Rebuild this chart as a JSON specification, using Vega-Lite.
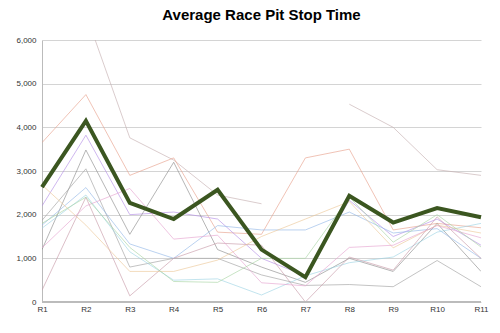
{
  "$schema": "https://vega.github.io/schema/vega-lite/v6.json",
  "autosize": "none",
  "width": 439,
  "height": 262,
  "padding": {"left": 42, "top": 40, "right": 19, "bottom": 31},
  "background": "white",
  "title": {"text": "Average Race Pit Stop Time", "fontSize": 15, "font": "Liberation Sans", "fontWeight": "bold", "color": "#000", "anchor": "middle", "offset": 13},
  "config": {
    "view": {"stroke": null},
    "axis": {"labelFont": "Liberation Sans", "labelFontSize": 8, "labelColor": "#333", "domainColor": "#bbb", "gridColor": "#d4d4d4", "tickSize": 0, "title": null}
  },
  "data": {"values": [
    {"race":"R2","series":"A","value":6600},{"race":"R3","series":"A","value":3760},{"race":"R4","series":"A","value":3250},{"race":"R5","series":"A","value":2450},{"race":"R6","series":"A","value":2250},
    {"race":"R8","series":"A2","value":4530},{"race":"R9","series":"A2","value":4000},{"race":"R10","series":"A2","value":3030},{"race":"R11","series":"A2","value":2900},
    {"race":"R1","series":"B","value":3650},{"race":"R2","series":"B","value":4750},{"race":"R3","series":"B","value":2900},{"race":"R4","series":"B","value":3300},{"race":"R5","series":"B","value":1600},{"race":"R6","series":"B","value":1550},{"race":"R7","series":"B","value":3300},{"race":"R8","series":"B","value":3500},{"race":"R9","series":"B","value":1650},{"race":"R10","series":"B","value":1800},{"race":"R11","series":"B","value":1700},
    {"race":"R1","series":"C","value":2200},{"race":"R2","series":"C","value":3820},{"race":"R3","series":"C","value":2000},{"race":"R4","series":"C","value":2060},{"race":"R5","series":"C","value":1900},{"race":"R6","series":"C","value":1000},{"race":"R7","series":"C","value":600},{"race":"R8","series":"C","value":2330},{"race":"R9","series":"C","value":1500},{"race":"R10","series":"C","value":1900},{"race":"R11","series":"C","value":1300},
    {"race":"R1","series":"D","value":1200},{"race":"R2","series":"D","value":3480},{"race":"R3","series":"D","value":1550},{"race":"R4","series":"D","value":3200},{"race":"R5","series":"D","value":1200},{"race":"R6","series":"D","value":800},{"race":"R7","series":"D","value":450},{"race":"R8","series":"D","value":1000},{"race":"R9","series":"D","value":700},{"race":"R10","series":"D","value":1800},{"race":"R11","series":"D","value":700},
    {"race":"R1","series":"E","value":1870},{"race":"R2","series":"E","value":3050},{"race":"R3","series":"E","value":800},{"race":"R4","series":"E","value":1000},{"race":"R5","series":"E","value":1000},{"race":"R6","series":"E","value":620},{"race":"R7","series":"E","value":380},{"race":"R8","series":"E","value":400},{"race":"R9","series":"E","value":350},{"race":"R10","series":"E","value":950},{"race":"R11","series":"E","value":350},
    {"race":"R1","series":"F","value":1760},{"race":"R2","series":"F","value":2620},{"race":"R3","series":"F","value":1330},{"race":"R4","series":"F","value":1000},{"race":"R5","series":"F","value":1750},{"race":"R6","series":"F","value":1650},{"race":"R7","series":"F","value":1650},{"race":"R8","series":"F","value":2060},{"race":"R9","series":"F","value":1580},{"race":"R10","series":"F","value":1680},{"race":"R11","series":"F","value":1000},
    {"race":"R1","series":"G","value":1690},{"race":"R2","series":"G","value":2450},{"race":"R3","series":"G","value":1150},{"race":"R4","series":"G","value":500},{"race":"R5","series":"G","value":530},{"race":"R6","series":"G","value":160},{"race":"R7","series":"G","value":600},{"race":"R8","series":"G","value":900},{"race":"R9","series":"G","value":1030},{"race":"R10","series":"G","value":1600},{"race":"R11","series":"G","value":1800},
    {"race":"R1","series":"H","value":270},{"race":"R2","series":"H","value":2400},{"race":"R3","series":"H","value":140},{"race":"R4","series":"H","value":1000},{"race":"R5","series":"H","value":1350},{"race":"R6","series":"H","value":1300},{"race":"R7","series":"H","value":0},{"race":"R8","series":"H","value":1030},{"race":"R9","series":"H","value":730},{"race":"R10","series":"H","value":1950},{"race":"R11","series":"H","value":1000},
    {"race":"R1","series":"I","value":2680},{"race":"R2","series":"I","value":1760},{"race":"R3","series":"I","value":700},{"race":"R4","series":"I","value":700},{"race":"R5","series":"I","value":960},{"race":"R6","series":"I","value":1500},{"race":"R7","series":"I","value":1900},{"race":"R8","series":"I","value":2300},{"race":"R9","series":"I","value":1240},{"race":"R10","series":"I","value":1760},{"race":"R11","series":"I","value":1580},
    {"race":"R1","series":"J","value":1240},{"race":"R2","series":"J","value":2200},{"race":"R3","series":"J","value":2600},{"race":"R4","series":"J","value":1440},{"race":"R5","series":"J","value":1530},{"race":"R6","series":"J","value":440},{"race":"R7","series":"J","value":370},{"race":"R8","series":"J","value":1250},{"race":"R9","series":"J","value":1300},{"race":"R10","series":"J","value":1750},{"race":"R11","series":"J","value":1470},
    {"race":"R1","series":"K","value":1800},{"race":"R2","series":"K","value":2400},{"race":"R3","series":"K","value":1250},{"race":"R4","series":"K","value":470},{"race":"R5","series":"K","value":450},{"race":"R6","series":"K","value":1000},{"race":"R7","series":"K","value":1000},{"race":"R8","series":"K","value":2400},{"race":"R9","series":"K","value":1370},{"race":"R10","series":"K","value":2000},{"race":"R11","series":"K","value":1260},
    {"race":"R1","series":"Average","value":2630},{"race":"R2","series":"Average","value":4150},{"race":"R3","series":"Average","value":2270},{"race":"R4","series":"Average","value":1900},{"race":"R5","series":"Average","value":2570},{"race":"R6","series":"Average","value":1200},{"race":"R7","series":"Average","value":570},{"race":"R8","series":"Average","value":2430},{"race":"R9","series":"Average","value":1820},{"race":"R10","series":"Average","value":2150},{"race":"R11","series":"Average","value":1940}
  ]},
  "encoding": {
    "x": {"field": "race", "type": "ordinal", "sort": ["R1","R2","R3","R4","R5","R6","R7","R8","R9","R10","R11"], "scale": {"type": "point", "padding": 0},
          "axis": {"labelAngle": 0, "labelPadding": 3, "grid": false, "domain": false}},
    "y": {"field": "value", "type": "quantitative", "scale": {"domain": [0, 6000]},
          "axis": {"values": [0,1000,2000,3000,4000,5000,6000], "format": ",.0f", "labelPadding": 6, "domain": true}}
  },
  "layer": [
    {
      "transform": [{"filter": "datum.series != 'Average'"}],
      "mark": {"type": "line", "strokeWidth": 0.8, "clip": true, "opacity": 0.8},
      "encoding": {
        "color": {"field": "series", "type": "nominal", "legend": null,
          "scale": {"domain": ["A","A2","B","C","D","E","F","G","H","I","J","K"],
                    "range": ["#c4aeb0","#c4aeb0","#e8a08c","#b48ee6","#8c8c8c","#a0a0a0","#94b8e8","#9fd4e4","#c89aa8","#ecc898","#e6a4d0","#a8d4a4"]}},
        "detail": {"field": "series"}
      }
    },
    {
      "transform": [{"filter": "datum.series == 'Average'"}],
      "mark": {"type": "rule", "color": "#bbb", "strokeWidth": 1},
      "encoding": {"y": {"datum": 0}, "x": null}
    },
    {
      "transform": [{"filter": "datum.series == 'Average'"}],
      "mark": {"type": "line", "strokeWidth": 4, "color": "#3b5620", "strokeJoin": "miter"},
      "encoding": {}
    }
  ]
}
